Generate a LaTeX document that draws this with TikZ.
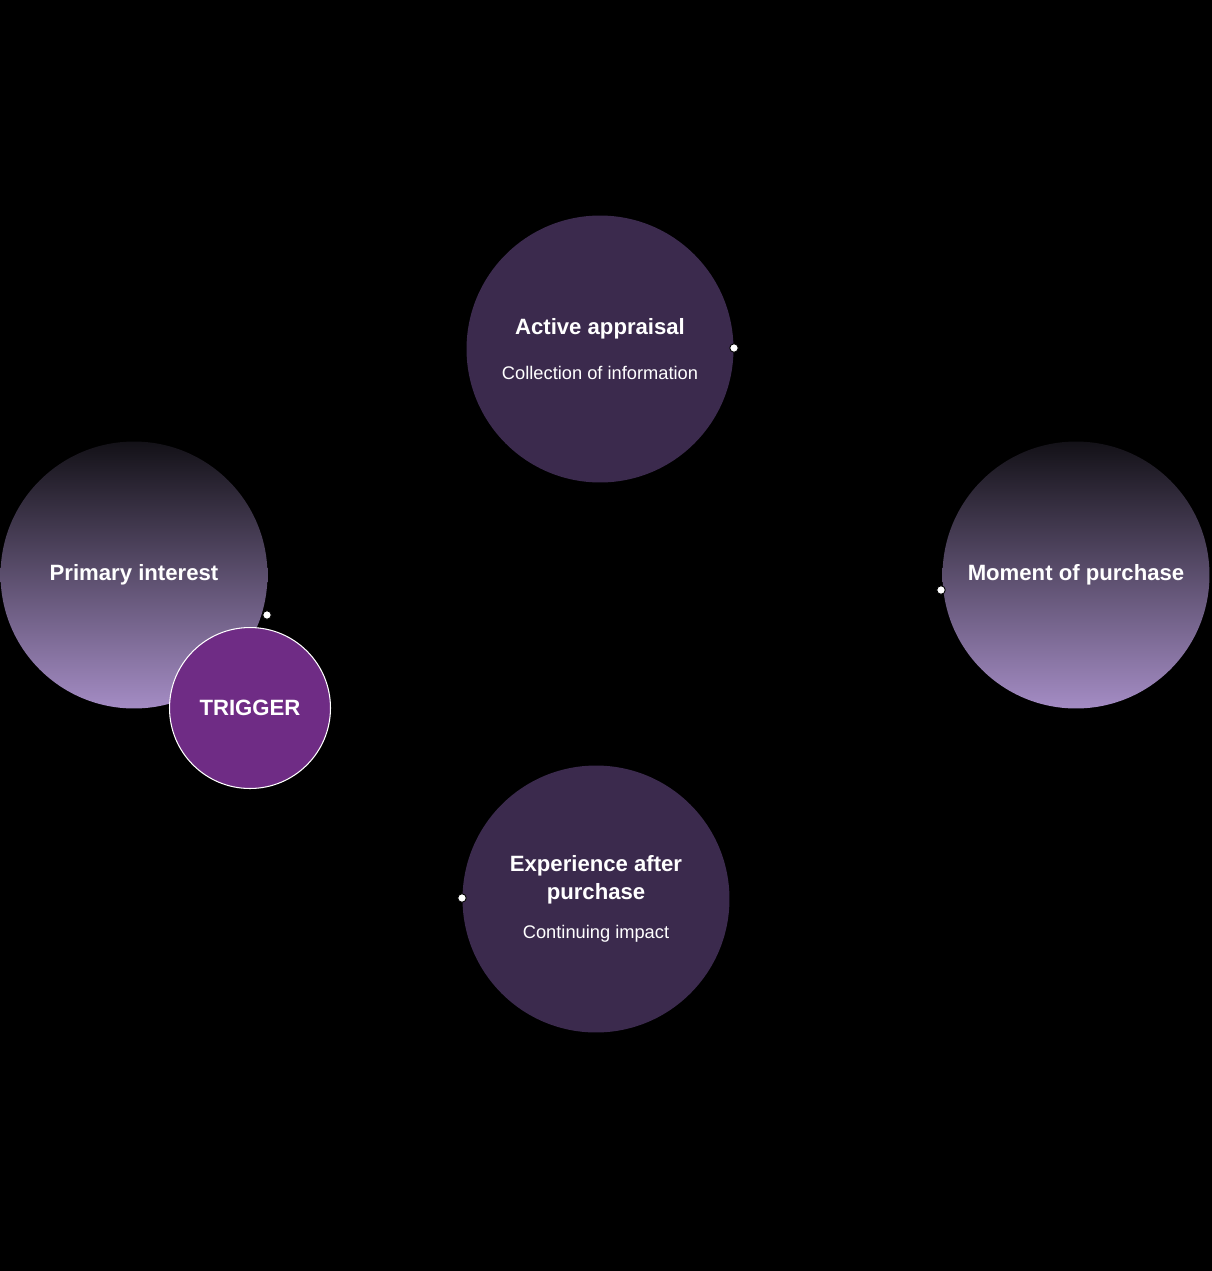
\documentclass[tikz,border=0pt]{standalone}
\usepackage{fontspec}
\setmainfont{Liberation Sans}
\definecolor{stagedark}{HTML}{3B2A4D}
\definecolor{fadetop}{HTML}{131117}
\definecolor{fadebottom}{HTML}{A48CC4}
\definecolor{triggerfill}{HTML}{6F2C85}
\newcommand\stagetitle{\fontsize{12.6}{15.9}\selectfont\bfseries}
\newcommand\stagenote{\fontsize{10.4}{15.9}\selectfont\mdseries}
\begin{document}
\begin{tikzpicture}[x=0.02cm, y=-0.02cm,
        stage/.style={circle, minimum size=5.34cm, inner sep=0pt, text=white, align=center, font=\stagetitle},
        darkstage/.style={stage, fill=stagedark},
        fadestage/.style={stage, top color=fadetop, bottom color=fadebottom},
        dot/.style={circle, fill=white, draw=black, line width=0.5pt, minimum size=0.17cm, inner sep=0pt}]
        \fill[black] (0,0) rectangle (1212,1271);
        \useasboundingbox (0,0) rectangle (1212,1271);
        \node[darkstage] (appraisal) at (600,349) {Active appraisal\\[10pt]\stagenote Collection of information};
        \node[fadestage] (interest) at (134,575) {Primary interest};
        \node[fadestage] (purchase) at (1076,575) {Moment of purchase};
        \node[darkstage] (experience) at (596,899) {Experience after\\purchase\\[6pt]\stagenote Continuing impact};
        \node[circle, minimum size=3.22cm, inner sep=0pt, fill=triggerfill, draw=white, line width=0.6pt, text=white, font=\stagetitle] (trigger) at (250,708) {TRIGGER};
        \foreach \name/\x/\y in {appraisaldot/734/348, interestdot/267/615, purchasedot/941/590, experiencedot/462/898} {
                \node[dot] (\name) at (\x,\y) {};
            }
    \end{tikzpicture}
\end{document}
